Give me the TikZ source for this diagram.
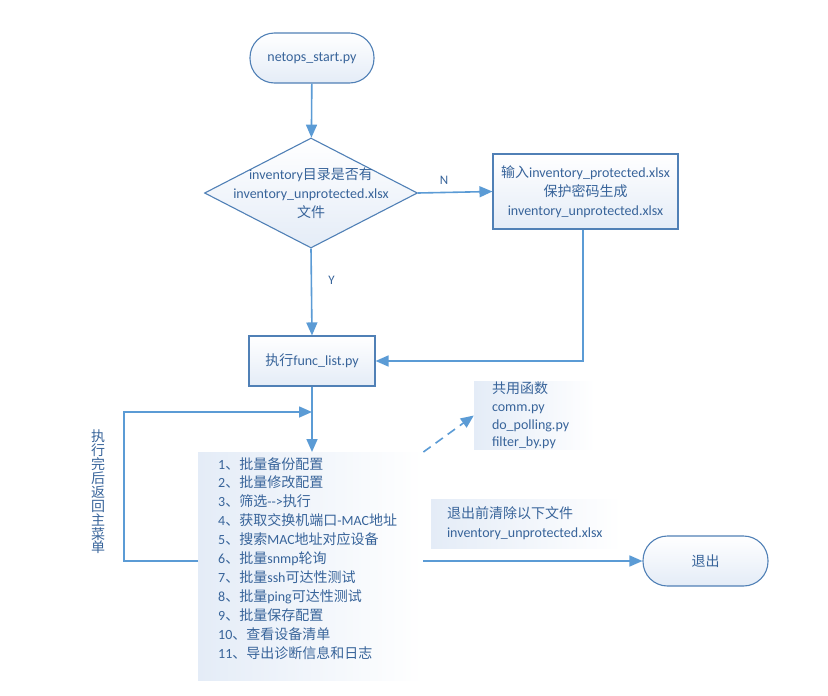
\documentclass[tikz,border=0pt]{standalone}
\usepackage{fontspec}
\setmainfont{Carlito}
\newfontfamily\zh{Noto Sans CJK SC}
\usepackage{xcolor}
\usetikzlibrary{arrows.meta, positioning, shapes.geometric}
\definecolor{linec}{RGB}{91,155,213}
\definecolor{borderc}{RGB}{80,128,182}
\definecolor{textc}{RGB}{56,100,154}
\definecolor{fillc}{RGB}{228,236,247}
\newcommand{\hz}[1]{{\zh #1}}

\begin{document}
\begin{tikzpicture}[x=1pt, y=-1pt,
  every node/.style={text=textc, font=\fontsize{14}{19}\selectfont},
  terminal/.style={rectangle, draw=borderc, line width=1.1pt, rounded corners=24.5pt,
                   top color=white, bottom color=fillc, minimum width=124, minimum height=50},
  process/.style={rectangle, draw=borderc, line width=1.1pt,
                  top color=white, bottom color=fillc, align=center},
  decision/.style={diamond, draw=borderc, line width=1.1pt,
                   top color=white, bottom color=fillc, minimum width=213, minimum height=110, inner sep=0},
  note/.style={rectangle, left color=fillc, right color=white, align=left},
  arrow/.style={-{Triangle[length=13pt, width=11pt]}, line width=1.6pt, draw=linec}
]
\useasboundingbox (0,0) rectangle (828,696);

% main column
\node[terminal] (start) at (312,58) {netops\_start.py};
\node[decision] (check) at (311,193) {};
\node[align=center] (checktxt) at (check) {inventory\hz{目录是否有}\\inventory\_unprotected.xlsx\\\hz{文件}};
\node[process, minimum width=185, minimum height=75] (protect) at (585.5,191.5)
      {\hz{输入}inventory\_protected.xlsx\\\hz{保护密码生成}\\inventory\_unprotected.xlsx};
\node[process, minimum width=126, minimum height=50] (func) at (312,361) {\hz{执行}func\_list.py};

% menu list
\node[note, anchor=north west, text width=185, inner xsep=20, inner ysep=5, text depth=206,
      font=\fontsize{14}{18.9}\selectfont]
      (menu) at (198,452)
      {1\hz{、批量备份配置}\\
       2\hz{、批量修改配置}\\
       3\hz{、筛选}-{}->\hz{执行}\\
       4\hz{、获取交换机端口}-MAC\hz{地址}\\
       5\hz{、搜索}MAC\hz{地址对应设备}\\
       6\hz{、批量}snmp\hz{轮询}\\
       7\hz{、批量}ssh\hz{可达性测试}\\
       8\hz{、批量}ping\hz{可达性测试}\\
       9\hz{、批量保存配置}\\
       10\hz{、查看设备清单}\\
       11\hz{、导出诊断信息和日志}};

% side notes
\node[note, text width=85, inner xsep=18, inner ysep=0, minimum height=65,
      font=\fontsize{14}{17.7}\selectfont] (common) at (534.5,415.5)
      {\hz{共用函数}\\comm.py\\do\_polling.py\\filter\_by.py};
\node[note, text width=158, inner xsep=16, minimum height=49] (cleanup) at (526,523.5)
      {\hz{退出前清除以下文件}\\inventory\_unprotected.xlsx};
\node[terminal, minimum width=125] (exit) at (705.5,561) {\hz{退出}};
\node[align=center, text width=14, inner sep=0, font=\fontsize{14}{13.9}\selectfont] (back) at (98,492)
      {\hz{执}\\\hz{行}\\\hz{完}\\\hz{后}\\\hz{返}\\\hz{回}\\\hz{主}\\\hz{菜}\\\hz{单}};

% connectors
\coordinate (merge) at (312,412);
\coordinate (loopcorner) at (124,412);
\draw[arrow] (start) -- (check);
\draw[arrow] (check.east) -- node[above, pos=0.35, yshift=4pt, font=\fontsize{13}{15}\selectfont] {N} (protect.west);
\draw[arrow] (check.south) -- node[right, pos=0.36, xshift=13pt, font=\fontsize{13}{15}\selectfont] {Y} (func.north);
\draw[arrow] (protect.south -| 583,0) |- (func.east);
\draw[arrow] (func.south) -- (func.south |- menu.north);
\draw[arrow] (menu.west |- exit.west) -| (loopcorner) -- (merge);
\draw[arrow] (menu.east |- exit.west) -- (exit.west);
\draw[arrow, dashed, dash pattern=on 9pt off 6pt] (menu.north east) -- (common.west);

\end{tikzpicture}
\end{document}
